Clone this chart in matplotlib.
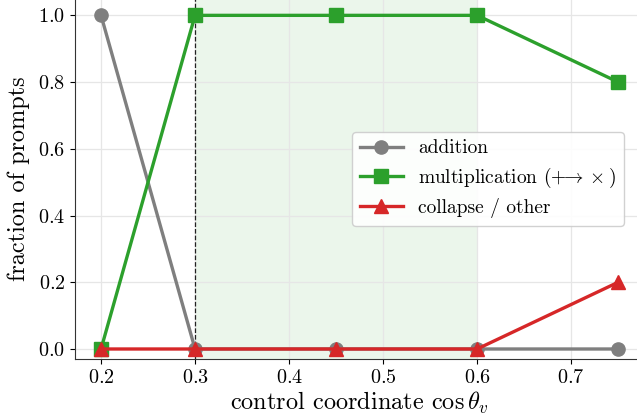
import matplotlib
matplotlib.use("Agg")
import matplotlib.pyplot as plt

plt.rcParams.update({
    "font.family": "serif",
    "font.serif": ["cmr10"],
    "mathtext.fontset": "cm",
    "axes.formatter.use_mathtext": True,
    "axes.unicode_minus": False,
})

cos_theta = [0.2, 0.3, 0.45, 0.6, 0.75]
addition = [1.0, 0.0, 0.0, 0.0, 0.0]
multiplication = [0.0, 1.0, 1.0, 1.0, 0.8]
collapse = [0.0, 0.0, 0.0, 0.0, 0.2]
band = (0.3, 0.6)
threshold = 0.3

fig = plt.figure(figsize=(6.37, 4.19), dpi=100)
ax = fig.add_axes([75 / 637, 60 / 419, 569 / 637, 360 / 419])

ax.axvspan(band[0], band[1], color="#2ca02c", alpha=0.09, lw=0, zorder=0)
ax.axvline(threshold, color="#222222", ls="--", lw=0.9, zorder=1)

ax.plot(cos_theta, addition, color="#7f7f7f", marker="o", ms=9.5, lw=2.4,
        label="addition", zorder=3)
ax.plot(cos_theta, multiplication, color="#2ca02c", marker="s", ms=9.5, lw=2.4,
        label=r"multiplication $(+\!\!\rightarrow\times)$", zorder=4)
ax.plot(cos_theta, collapse, color="#d62728", marker="^", ms=10, lw=2.4,
        label="collapse / other", zorder=5)

ax.set_xlim(0.1723, 0.7775)
ax.set_ylim(-0.03, 1.049)
ax.set_xticks([0.2, 0.3, 0.4, 0.5, 0.6, 0.7])
ax.set_yticks([0.0, 0.2, 0.4, 0.6, 0.8, 1.0])
ax.tick_params(labelsize=14.5)
ax.grid(True, color="#e6e6e6", lw=0.9)
ax.set_axisbelow(True)
for s in ax.spines.values():
    s.set_color("#333333")

ax.set_xlabel(r"control coordinate $\cos\theta_v$", fontsize=17.5, labelpad=2)
ax.set_ylabel("fraction of prompts", fontsize=17.5, labelpad=6)

ax.legend(loc="upper right", bbox_to_anchor=(634 / 637, 1 - 122 / 419),
          bbox_transform=fig.transFigure, fontsize=14, framealpha=0.9,
          edgecolor="#cccccc", handlelength=2.2, borderpad=0.4,
          labelspacing=0.42)

fig.savefig("out.png", dpi=100)
